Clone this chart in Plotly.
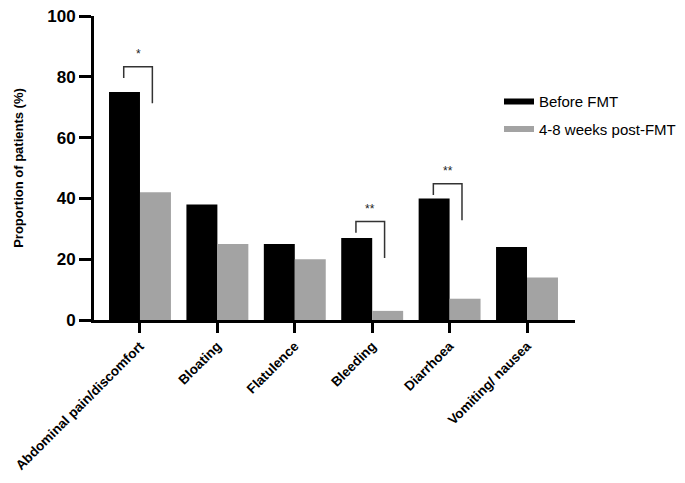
import plotly.graph_objects as go

categories = ["Abdominal pain/discomfort", "Bloating", "Flatulence", "Bleeding", "Diarrhoea", "Vomiting/ nausea"]
before_fmt = [75, 38, 25, 27, 40, 24]
post_fmt = [42, 25, 20, 3, 7, 14]
y_ticks = [0, 20, 40, 60, 80, 100]

# significance brackets: category index, label, bracket top height
sig_index = [0, 3, 4]
sig_label = ["*", "**", "**"]
sig_top = [83.3, 32.4, 44.8]

FONT = "Liberation Sans, Arial, sans-serif"
BLACK = "#000000"
GREY = "#A3A3A3"

fig = go.Figure()
fig.add_trace(go.Bar(x=list(range(len(categories))), y=before_fmt, marker=dict(color=BLACK, line=dict(width=0)),
                     showlegend=False, name="Before FMT"))
fig.add_trace(go.Bar(x=list(range(len(categories))), y=post_fmt, marker=dict(color=GREY, line=dict(width=0)),
                     showlegend=False, name="4-8 weeks post-FMT"))
# legend entries (wide thin swatches)
fig.add_trace(go.Scatter(x=[None], y=[None], mode="lines", line=dict(color=BLACK, width=6), name="Before FMT",
                         legendgroup="a"))
fig.add_trace(go.Scatter(x=[None], y=[None], mode="lines", line=dict(color=GREY, width=6), name="4-8 weeks post-FMT",
                         legendgroup="b"))

shapes = []
annotations = []
for i, lab, top in zip(sig_index, sig_label, sig_top):
    xl, xr = i - 0.21, i + 0.16
    shapes.append(dict(type="path", xref="x", yref="y",
                       path=f"M {xl} {top-3.7} L {xl} {top} L {xr} {top} L {xr} {top-12}",
                       line=dict(color="#333333", width=1.5)))
    annotations.append(dict(x=(xl + xr) / 2, y=top + 1.2, xref="x", yref="y", text=lab, showarrow=False,
                            yanchor="bottom", font=dict(family=FONT, size=12, color="#222222")))

fig.update_layout(
    width=677, height=475,
    margin=dict(l=86, r=110, t=8, b=163, autoexpand=False),
    paper_bgcolor="white", plot_bgcolor="white",
    barmode="group", bargap=0.2, bargroupgap=0,
    font=dict(family=FONT, color="black"),
    shapes=shapes, annotations=annotations,
    legend=dict(x=0.842, y=0.772, xanchor="left", yanchor="top", font=dict(family=FONT, size=15, color="black"),
                tracegroupgap=5, itemwidth=30, bgcolor="rgba(0,0,0,0)"),
    xaxis=dict(range=[-0.594, 5.62], tickmode="array", tickvals=list(range(len(categories))),
               ticktext=[f"<b>{c}</b>" for c in categories], tickangle=-45, automargin=False,
               tickfont=dict(family=FONT, size=13.5, color="black"),
               showline=True, linecolor="black", linewidth=3, ticks="outside", ticklen=10, tickwidth=3,
               tickcolor="black", showgrid=False, zeroline=False),
    yaxis=dict(range=[0, 100], tickmode="array", tickvals=y_ticks, automargin=False,
               ticktext=[f"<b>{t}</b>" for t in y_ticks], ticklabeloverflow="allow",
               tickfont=dict(family=FONT, size=17, color="black"),
               showline=True, linecolor="black", linewidth=3, ticks="outside", ticklen=12, tickwidth=3,
               tickcolor="black", showgrid=False, zeroline=False,
               title=dict(text="<b>Proportion of patients (%)</b>", font=dict(family=FONT, size=13, color="black"),
                          standoff=21)),
)

fig.write_html("out.html")
